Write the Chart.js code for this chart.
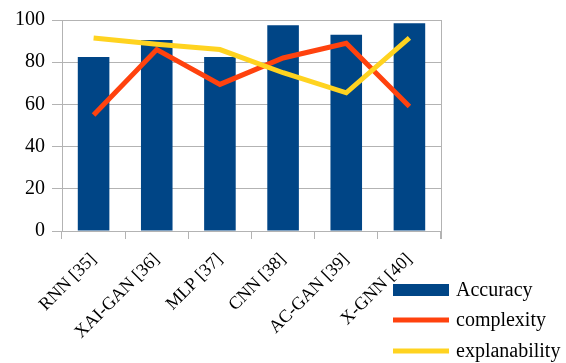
<!DOCTYPE html>
<html>
<head>
<meta charset="utf-8">
<script src="https://cdn.jsdelivr.net/npm/chart.js@4.4.0/dist/chart.umd.min.js"></script>
<style>
  html, body { margin: 0; padding: 0; background: #fff; }
  #wrap { width: 566px; height: 363px; }
</style>
</head>
<body>
<div id="wrap"><canvas id="chart" width="566" height="363"></canvas></div>
<script>
const categories = ['RNN [35]', 'XAI-GAN [36]', 'MLP [37]', 'CNN [38]', 'AC-GAN [39]', 'X-GNN [40]'];
const accuracy = [82.5, 90.5, 82.5, 97.5, 93, 98.5];
const complexity = [55, 86, 69.5, 82, 89, 59];
const explanability = [91.5, 88.5, 86, 75, 65.5, 91.5];
const yTicks = [0, 20, 40, 60, 80, 100];

const gridColor = '#b3b3b3';

// legend drawn in the lower right corner, like the original
const cornerLegend = {
    id: 'cornerLegend',
    afterDraw(chart) {
        const ctx = chart.ctx;
        const rows = [290, 320, 351];
        ctx.save();
        ctx.font = '20px "Liberation Serif", serif';
        ctx.textBaseline = 'middle';
        chart.data.datasets.forEach((ds, i) => {
            const y = rows[i];
            ctx.fillStyle = ds.type === 'line' ? ds.borderColor : ds.backgroundColor;
            if (ds.type === 'line') {
                ctx.fillRect(393, y - 2.5, 56, 5);
            } else {
                ctx.fillRect(393, y - 6, 56, 12);
            }
            ctx.fillStyle = '#000';
            ctx.fillText(ds.label, 456, y + 1);
        });
        ctx.restore();
    }
};

// right edge of the plot frame
const frameRight = {
    id: 'frameRight',
    beforeDatasetsDraw(chart) {
        const a = chart.chartArea;
        const ctx = chart.ctx;
        ctx.save();
        ctx.strokeStyle = gridColor;
        ctx.lineWidth = 1;
        ctx.beginPath();
        ctx.moveTo(a.right + 0.5, a.top);
        ctx.lineTo(a.right + 0.5, a.bottom + 8);
        ctx.stroke();
        ctx.restore();
    }
};

new Chart(document.getElementById('chart'), {
    data: {
        labels: categories,
        datasets: [
            {
                type: 'bar',
                label: 'Accuracy',
                data: accuracy,
                backgroundColor: '#004586',
                categoryPercentage: 1.0,
                barPercentage: 0.5,
                order: 3
            },
            {
                type: 'line',
                label: 'complexity',
                data: complexity,
                borderColor: '#ff420e',
                backgroundColor: '#ff420e',
                borderWidth: 5,
                pointRadius: 0,
                tension: 0,
                order: 2
            },
            {
                type: 'line',
                label: 'explanability',
                data: explanability,
                borderColor: '#ffd320',
                backgroundColor: '#ffd320',
                borderWidth: 5,
                pointRadius: 0,
                tension: 0,
                order: 1
            }
        ]
    },
    options: {
        responsive: false,
        animation: false,
        layout: { padding: { top: 20, right: 125, left: 0, bottom: 0 } },
        plugins: {
            legend: { display: false },
            tooltip: { enabled: false }
        },
        scales: {
            x: {
                offset: true,
                grid: {
                    offset: true,
                    drawOnChartArea: false,
                    drawTicks: true,
                    tickLength: 8,
                    color: gridColor
                },
                border: { color: gridColor },
                ticks: {
                    minRotation: 45,
                    maxRotation: 45,
                    color: '#000',
                    font: { family: '"Liberation Serif", serif', size: 18 },
                    padding: 10
                },
                afterFit(scale) { scale.height = 132; }
            },
            y: {
                min: 0,
                max: 100,
                afterBuildTicks(scale) { scale.ticks = yTicks.map(v => ({ value: v })); },
                grid: {
                    color: gridColor,
                    tickLength: 10
                },
                border: { color: gridColor },
                ticks: {
                    color: '#000',
                    font: { family: '"Liberation Serif", serif', size: 20 },
                    padding: 7
                },
                afterFit(scale) { scale.width = 62; }
            }
        }
    },
    plugins: [cornerLegend, frameRight]
});
</script>
</body>
</html>
